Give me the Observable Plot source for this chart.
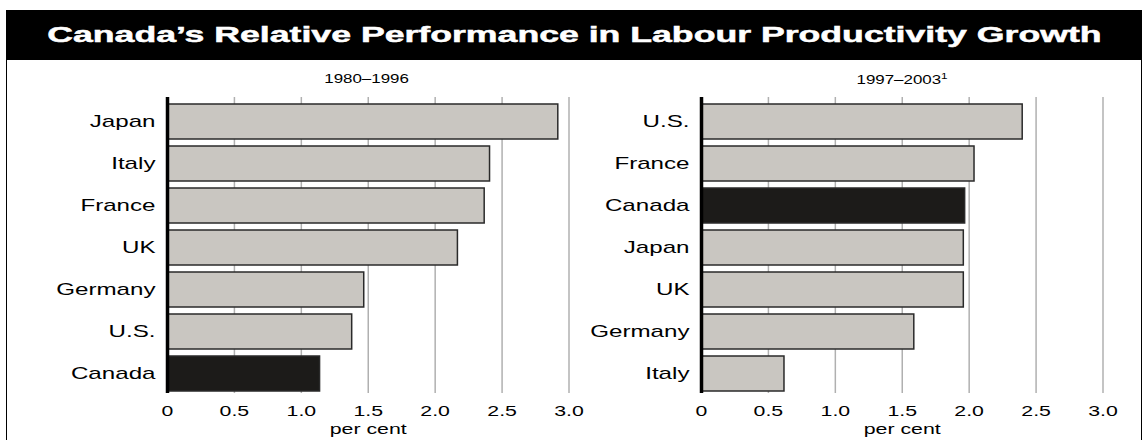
<!DOCTYPE html>
<html><head><meta charset="utf-8">
<script src="https://cdn.jsdelivr.net/npm/d3@7"></script>
<script src="https://cdn.jsdelivr.net/npm/@observablehq/plot@0.6"></script>
<style>
body{margin:0;background:#fff;}
#wrap{position:relative;width:1148px;height:440px;overflow:hidden;font-family:"Liberation Sans",Arial,sans-serif;background:#fff;}
#titlebar{position:absolute;left:6px;top:10px;width:1136px;height:50px;background:#000;color:#fff;display:flex;align-items:center;justify-content:center;}
#titlebar span{font-weight:bold;font-size:22px;display:inline-block;transform:scaleX(1.62);white-space:nowrap;-webkit-text-stroke:0.5px #fff;}
#frame{position:absolute;left:6px;top:59px;width:1134px;height:420px;border:1.5px solid #000;border-top:none;}
.sub{position:absolute;top:71px;width:300px;text-align:center;font-size:13px;}
.sub span{display:inline-block;transform:scaleX(1.3);}
.sub sup{font-size:9px;}
.panel{position:absolute;top:63px;}
</style></head>
<body>
<div id="wrap">
  <div id="frame"></div>
  <div id="titlebar"><span id="title"></span></div>
  <div class="sub" id="sub1" style="left:217px"><span></span></div>
  <div class="sub" id="sub2" style="left:752px"><span></span></div>
  <div class="panel" id="p1" style="left:0px"></div>
  <div class="panel" id="p2" style="left:534px"></div>
</div>
<script>
const titleText = "Canada’s Relative Performance in Labour Productivity Growth";
const periods = ["1980–1996", "1997–2003"];
const periodNotes = ["", "1"];
const countries1 = ["Japan", "Italy", "France", "UK", "Germany", "U.S.", "Canada"];
const values1 = [2.92, 2.41, 2.37, 2.17, 1.47, 1.38, 1.14];
const countries2 = ["U.S.", "France", "Canada", "Japan", "UK", "Germany", "Italy"];
const values2 = [2.40, 2.04, 1.97, 1.96, 1.96, 1.59, 0.62];
const xTicks = [0, 0.5, 1, 1.5, 2, 2.5, 3];
const tickLabels = ["0", "0.5", "1.0", "1.5", "2.0", "2.5", "3.0"];
const axisTitle = "per cent";
const highlight = "Canada";

document.getElementById("title").textContent = titleText;
document.querySelector("#sub1 span").textContent = periods[0];
const s2 = document.querySelector("#sub2 span");
s2.textContent = periods[1];
const sup = document.createElement("sup"); sup.textContent = periodNotes[1]; s2.appendChild(sup);

const FONT = "'Liberation Sans', Arial, sans-serif";

function panel(countries, values) {
  const data = countries.map((c, i) => ({country: c, value: values[i]}));
  return Plot.plot({
    width: 614, height: 377,
    marginLeft: 167, marginRight: 45.5, marginTop: 34, marginBottom: 47,
    x: {domain: [0, 3]},
    y: {domain: countries, paddingInner: 0.17, paddingOuter: 0.07, align: 0.8},
    style: {fontFamily: FONT, color: "#000", background: "transparent", overflow: "visible"},
    marks: [
      Plot.gridX(xTicks.slice(1), {stroke: "#b0b0b0", strokeOpacity: 1, strokeWidth: 1.5}),
      Plot.barX(data, {
        x: "value", y: "country",
        fill: d => d.country === highlight ? "#1c1b19" : "#c9c6c1",
        stroke: "#2a2a2a", strokeWidth: 1.5
      }),
      Plot.ruleX([0], {stroke: "#000", strokeWidth: 3.5}),
      Plot.axisY({tickSize: 0, tickPadding: 12, fontSize: 17, label: null}),
      Plot.axisX({
        ticks: xTicks, tickFormat: d => tickLabels[xTicks.indexOf(d)],
        tickSize: 0, tickPadding: 12, fontSize: 15,
        label: axisTitle, labelAnchor: "center", labelArrow: "none", labelOffset: 40
      })
    ]
  });
}

function stretch(svg, k) {
  svg.querySelectorAll("text").forEach(t => {
    const L = t.getComputedTextLength();
    if (L > 0) {
      t.setAttribute("textLength", (L * k).toFixed(1));
      t.setAttribute("lengthAdjust", "spacingAndGlyphs");
    }
  });
}

const p1 = panel(countries1, values1);
const p2 = panel(countries2, values2);
document.getElementById("p1").appendChild(p1);
document.getElementById("p2").appendChild(p2);
stretch(p1, 1.42);
stretch(p2, 1.42);
</script>
</body></html>
